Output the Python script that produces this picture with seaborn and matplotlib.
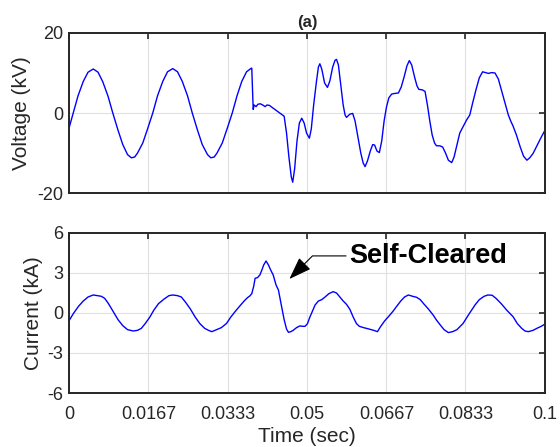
import numpy as np
import pandas as pd
import matplotlib
matplotlib.use("Agg")
import matplotlib.pyplot as plt
import seaborn as sns

# ---------------- data ----------------
v_time = [0.0000, 0.0009, 0.0019, 0.0030, 0.0040, 0.0051, 0.0061, 0.0071, 0.0082, 0.0092,
          0.0103, 0.0113, 0.0123, 0.0131, 0.0138, 0.0144, 0.0155, 0.0165, 0.0176, 0.0186,
          0.0197, 0.0207, 0.0218, 0.0228, 0.0238, 0.0249, 0.0259, 0.0270, 0.0280, 0.0291,
          0.0298, 0.0305, 0.0311, 0.0322, 0.0332, 0.0343, 0.0353, 0.0363, 0.0373, 0.0383,
          0.0384, 0.0387, 0.0389, 0.0393, 0.0397, 0.0402, 0.0407, 0.0412, 0.0416, 0.0421,
          0.0428, 0.0437, 0.0446, 0.0452, 0.0457, 0.0462, 0.0467, 0.0470, 0.0474, 0.0479,
          0.0484, 0.0489, 0.0494, 0.0499, 0.0505, 0.0509, 0.0514, 0.0520, 0.0524, 0.0527,
          0.0531, 0.0537, 0.0543, 0.0548, 0.0554, 0.0559, 0.0562, 0.0566, 0.0571, 0.0576,
          0.0580, 0.0583, 0.0590, 0.0596, 0.0601, 0.0607, 0.0613, 0.0618, 0.0622, 0.0627,
          0.0633, 0.0638, 0.0642, 0.0647, 0.0652, 0.0657, 0.0662, 0.0667, 0.0672, 0.0678,
          0.0685, 0.0692, 0.0698, 0.0704, 0.0710, 0.0715, 0.0720, 0.0726, 0.0731, 0.0735,
          0.0742, 0.0748, 0.0753, 0.0758, 0.0763, 0.0768, 0.0772, 0.0779, 0.0785, 0.0791,
          0.0797, 0.0804, 0.0809, 0.0815, 0.0821, 0.0828, 0.0835, 0.0842, 0.0848, 0.0855,
          0.0862, 0.0869, 0.0875, 0.0881, 0.0888, 0.0895, 0.0902, 0.0909, 0.0916, 0.0923,
          0.0928, 0.0933, 0.0940, 0.0948, 0.0955, 0.0962, 0.0968, 0.0975, 0.0983, 0.0991,
          0.1000]
voltage_kv = [-3.8, 0.0, 4.3, 7.9, 10.2, 11.0, 10.2, 7.8, 4.2, 0.0,
              -4.3, -7.9, -10.4, -11.2, -11.0, -10.0, -7.5, -4.0, 0.0, 4.3,
              7.9, 10.3, 11.1, 10.3, 7.9, 4.3, 0.0, -4.3, -7.9, -10.4,
              -11.2, -11.0, -10.0, -7.5, -4.0, 0.0, 4.3, 7.9, 10.3, 11.2,
              11.2, 0.9, 2.0, 1.6, 2.2, 2.3, 2.0, 1.6, 2.0, 1.9,
              1.3, 0.5, -0.3, -0.8, -5.0, -11.0, -16.0, -17.3, -14.0, -7.0,
              -2.5, -1.3, -2.5, -5.0, -6.3, -4.0, 2.0, 8.0, 11.5, 12.3,
              11.0, 7.5, 6.4, 8.0, 11.5, 13.2, 13.4, 12.0, 7.0, 2.0,
              -0.5, -1.1, -0.3, -0.1, -2.0, -6.0, -10.0, -12.5, -13.4, -12.0,
              -9.5, -7.9, -8.0, -9.5, -9.9, -7.0, -2.0, 1.5, 3.8, 4.75,
              4.9, 5.0, 6.5, 9.0, 11.8, 13.1, 12.0, 9.0, 6.8, 5.9,
              5.8, 5.4, 2.0, -2.0, -5.5, -7.5, -8.2, -8.2, -8.5, -10.0,
              -11.8, -12.4, -11.0, -8.0, -5.0, -3.4, -1.8, -0.5, 2.5, 5.8,
              8.8, 10.3, 10.1, 9.9, 10.1, 10.0, 8.5, 5.5, 2.5, -0.5,
              -2.0, -3.3, -5.5, -8.5, -10.8, -11.8, -11.2, -10.1, -8.2, -6.3,
              -4.3]

i_time = [0.0000, 0.0010, 0.0020, 0.0030, 0.0040, 0.0051, 0.0060, 0.0068, 0.0075, 0.0083,
          0.0093, 0.0103, 0.0113, 0.0123, 0.0135, 0.0144, 0.0152, 0.0160, 0.0170, 0.0178,
          0.0188, 0.0200, 0.0210, 0.0218, 0.0228, 0.0236, 0.0245, 0.0255, 0.0265, 0.0275,
          0.0285, 0.0293, 0.0300, 0.0310, 0.0320, 0.0331, 0.0340, 0.0350, 0.0359, 0.0368,
          0.0375, 0.0380, 0.0384, 0.0388, 0.0391, 0.0396, 0.0401, 0.0405, 0.0409, 0.0414,
          0.0419, 0.0424, 0.0429, 0.0435, 0.0440, 0.0446, 0.0452, 0.0457, 0.0461, 0.0466,
          0.0471, 0.0478, 0.0485, 0.0491, 0.0496, 0.0501, 0.0505, 0.0511, 0.0517, 0.0524,
          0.0531, 0.0538, 0.0546, 0.0555, 0.0562, 0.0569, 0.0576, 0.0583, 0.0590, 0.0597,
          0.0604, 0.0610, 0.0619, 0.0630, 0.0640, 0.0648, 0.0655, 0.0663, 0.0671, 0.0680,
          0.0688, 0.0697, 0.0705, 0.0713, 0.0722, 0.0730, 0.0738, 0.0745, 0.0755, 0.0765,
          0.0772, 0.0780, 0.0788, 0.0797, 0.0806, 0.0815, 0.0828, 0.0840, 0.0853, 0.0862,
          0.0872, 0.0880, 0.0889, 0.0897, 0.0908, 0.0920, 0.0933, 0.0942, 0.0951, 0.0958,
          0.0965, 0.0975, 0.0983, 0.0992, 0.1000]
current_ka = [-0.58, 0.0, 0.5, 0.9, 1.2, 1.35, 1.3, 1.25, 1.1, 0.7,
              0.1, -0.5, -0.95, -1.25, -1.35, -1.3, -1.15, -0.8, -0.3, 0.2,
              0.7, 1.05, 1.3, 1.35, 1.3, 1.2, 0.8, 0.3, -0.3, -0.8,
              -1.15, -1.3, -1.4, -1.25, -1.1, -0.78, -0.3, 0.15, 0.53, 0.9,
              1.15, 1.28, 1.45, 2.0, 2.6, 2.65, 2.85, 3.2, 3.6, 3.9,
              3.6, 3.2, 2.85, 2.1, 1.72, 0.6, -0.5, -1.2, -1.45, -1.4,
              -1.3, -1.1, -0.97, -1.0, -1.0, -0.8, -0.4, 0.1, 0.6, 0.9,
              1.0, 1.2, 1.45, 1.6, 1.5, 1.2, 0.9, 0.65, 0.28, -0.3,
              -0.8, -1.0, -1.1, -1.2, -1.3, -1.4, -1.0, -0.6, -0.28, 0.1,
              0.48, 0.9, 1.2, 1.35, 1.25, 1.18, 1.0, 0.7, 0.3, -0.15,
              -0.53, -0.9, -1.25, -1.47, -1.4, -1.25, -0.78, -0.1, 0.6, 1.0,
              1.25, 1.35, 1.33, 1.1, 0.7, 0.2, -0.28, -0.8, -1.15, -1.35,
              -1.4, -1.3, -1.15, -1.0, -0.83]

x_ticks = [0, 0.0167, 0.0333, 0.05, 0.0667, 0.0833, 0.1]
x_tick_labels = ["0", "0.0167", "0.0333", "0.05", "0.0667", "0.0833", "0.1"]
v_ticks = [-20, 0, 20]
i_ticks = [-6, -3, 0, 3, 6]

# ---------------- style ----------------
sns.set_style("white")
plt.rcParams["font.family"] = ["Liberation Sans", "DejaVu Sans"]
plt.rcParams["axes.unicode_minus"] = False

fig = plt.figure(figsize=(5.6, 4.47), dpi=100)
ax1 = fig.add_axes([0.1232, 0.5682, 0.85, 0.358])
ax2 = fig.add_axes([0.1232, 0.1208, 0.85, 0.358])

df_v = pd.DataFrame({"t": v_time, "v": voltage_kv})
df_i = pd.DataFrame({"t": i_time, "i": current_ka})

sns.lineplot(data=df_v, x="t", y="v", ax=ax1, color="#0000ff", linewidth=1.0,
             sort=False, estimator=None)
sns.lineplot(data=df_i, x="t", y="i", ax=ax2, color="#0000ff", linewidth=1.0,
             sort=False, estimator=None)

for ax, yt, lim in [(ax1, v_ticks, (-20, 20)), (ax2, i_ticks, (-6, 6))]:
    ax.set_xlim(0, 0.1)
    ax.set_ylim(*lim)
    ax.set_xticks(x_ticks)
    ax.set_yticks(yt)
    ax.grid(True, color="#e0e0e0", linewidth=0.8)
    ax.set_axisbelow(True)
    for sp in ax.spines.values():
        sp.set_color("#262626")
        sp.set_linewidth(1.4)
        sp.set_visible(True)
    ax.tick_params(direction="in", length=4, width=1.2, top=True, right=True,
                   labelsize=13, colors="#262626")
    ax.tick_params(axis="y", pad=4)
    ax.tick_params(axis="x", pad=9)

ax1.set_xticklabels([])
ax1.set_xlabel("")
ax2.set_xticklabels(x_tick_labels)

ax1.set_ylabel("Voltage (kV)", fontsize=15, color="#262626")
ax2.set_ylabel("Current (kA)", fontsize=15, color="#262626")
ax1.yaxis.set_label_coords(-0.08, 0.5)
ax2.yaxis.set_label_coords(-0.055, 0.5)
ax2.set_xlabel("Time (sec)", fontsize=15, color="#262626", labelpad=3)
ax1.set_title("(a)", fontsize=12, fontweight="bold", pad=4)

# annotation
ax2.annotate("", xy=(0.0463, 2.55), xytext=(0.0582, 4.28),
             arrowprops=dict(arrowstyle="-|>,head_length=1.4,head_width=0.5",
                             connectionstyle="angle,angleA=0,angleB=45,rad=0",
                             color="black", lw=0.8, shrinkA=0, shrinkB=0))
ax2.text(0.0588, 4.28, "Self-Cleared", fontsize=19.5, fontweight="bold",
         va="center", ha="left", color="black")

fig.savefig("out.png", dpi=100)
